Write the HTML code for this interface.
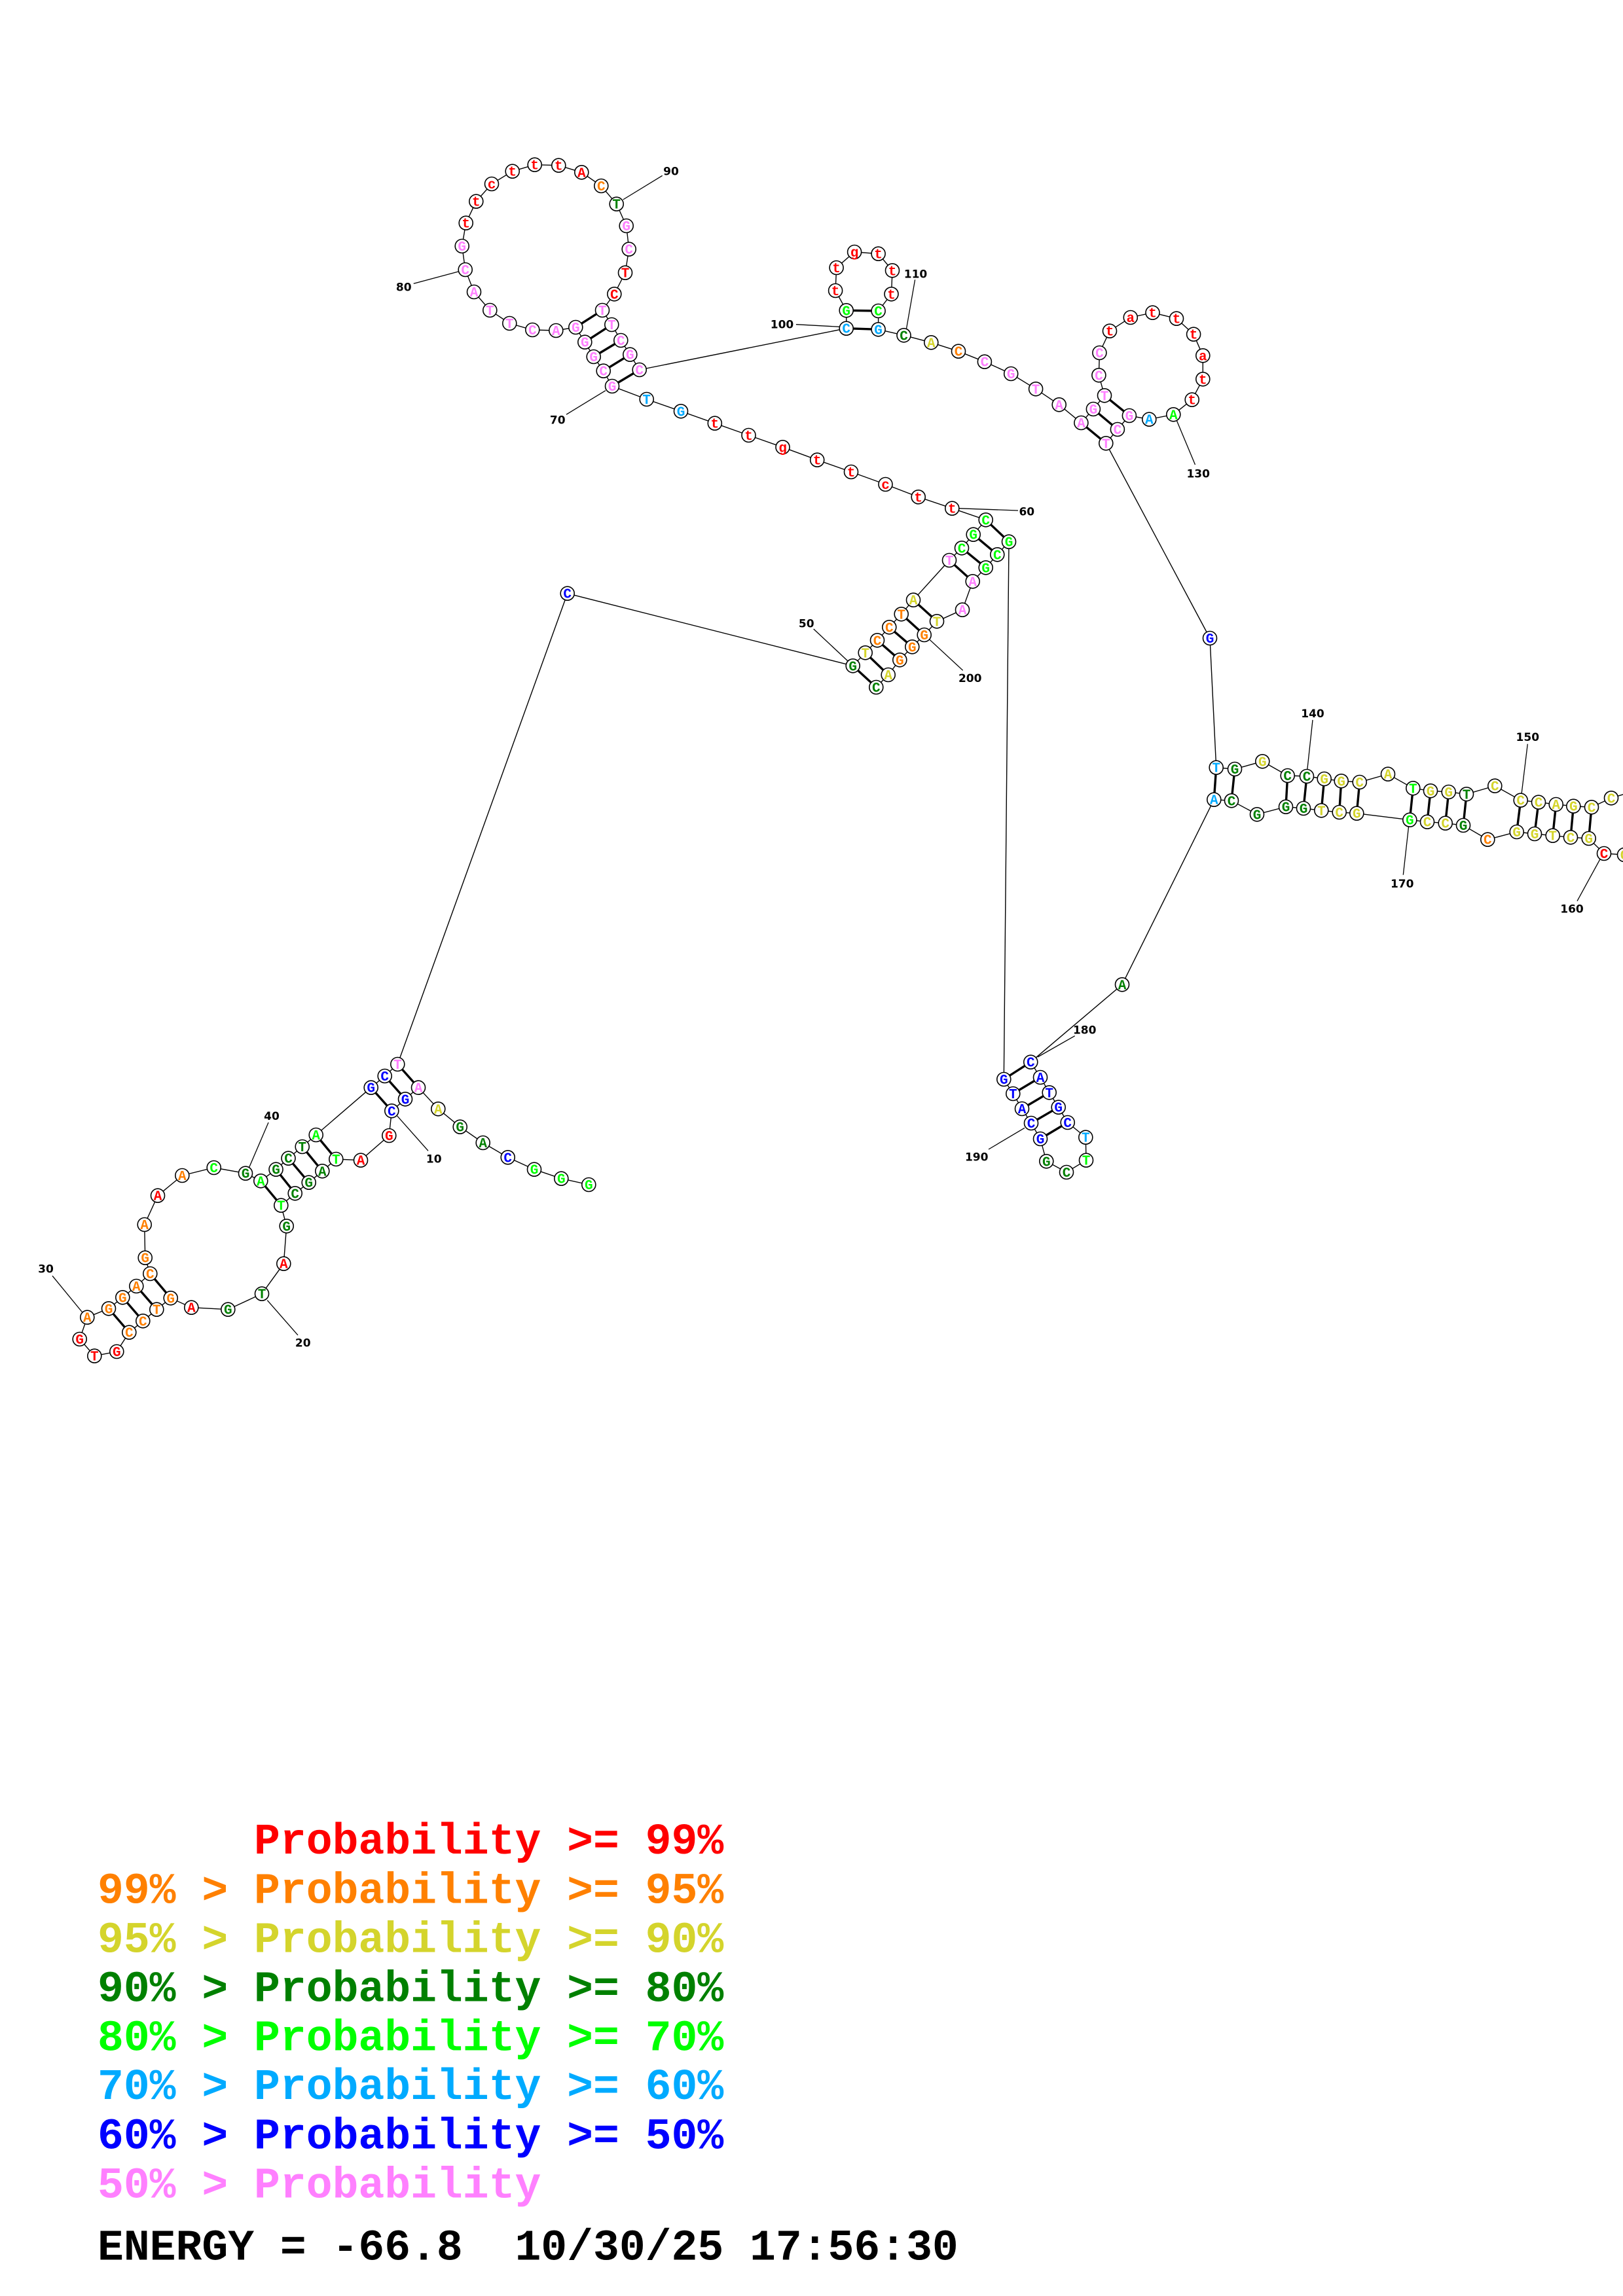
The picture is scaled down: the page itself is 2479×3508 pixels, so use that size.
<!DOCTYPE html>
<html><head><meta charset="utf-8"><style>
html,body{margin:0;padding:0;background:#fff;width:2479px;height:3508px;overflow:hidden}
svg{display:block}
.bb{fill:none;stroke:#000;stroke-width:1.4}
.pr{fill:none;stroke:#000;stroke-width:3.4}
.ll{stroke:#000;stroke-width:1.3}
circle{fill:#fff;stroke:#000;stroke-width:1.6}
.nt text{font-family:"Liberation Mono",monospace;font-weight:bold;font-size:21px;text-anchor:middle}
.lb text{font-family:"DejaVu Sans","Liberation Sans",sans-serif;font-weight:bold;font-size:17px;text-anchor:middle;fill:#000}
.lg text{font-family:"Liberation Mono",monospace;font-weight:bold;font-size:66.4px;white-space:pre}
.r{fill:#ff0000}.o{fill:#ff8000}.y{fill:#d4d42c}.d{fill:#008000}.g{fill:#00ff00}.l{fill:#00aaff}.b{fill:#0000ff}.p{fill:#ff80ff}.k{fill:#000}
</style></head><body>
<svg width="2479" height="3508" viewBox="0 0 2479 3508" xmlns="http://www.w3.org/2000/svg">
<polyline class="bb" points="899.3,1810 857.3,1800.7 816,1786.7 775.7,1768.3 737.7,1746 702.7,1721.7 669.3,1694.3 639,1661.7 619,1679.3 598.3,1697.3 594.3,1735 551,1772.7 513.3,1771 492.3,1789.3 471.7,1806.7 450.7,1823.3 429.3,1841.7 437.7,1873.3 433.3,1930.7 400,1976.7 348.3,2000.7 292.3,1997.7 260.7,1983.3 239.3,2000.7 218.3,2018.3 197.3,2035.7 178.3,2065 144.3,2071.7 121.7,2046 133.3,2012.7 166,1999.3 187.3,1982.3 208.3,1965 229.3,1946 221.7,1921.7 220.7,1871 241,1826.7 278.3,1796 326.7,1784 375,1792.7 398.3,1804.3 421.5,1786.7 440.5,1769.7 461.7,1752 482.7,1734 566.7,1661.7 587.7,1644 607.3,1626 866.7,906.7 1302.7,1017.3 1321.7,997.3 1340,978.3 1358.3,958.3 1376.7,938.3 1395,916.7 1450,856 1469,837.3 1486.7,816.7 1505.7,794.3 1454.3,776.7 1402.7,759.3 1352.5,740 1300,721 1248.2,702.7 1195.5,683.3 1143.5,665 1091.8,646.7 1040,628.3 987.7,610 935,590 921.7,566.7 906.7,545 893.3,522.7 879.3,500 849.3,505 813.3,504 778.3,494 748.3,474 724,446 710.7,412 705.7,376 711.7,340.7 727.3,307.7 751,281 782.7,261.7 816.7,251.7 853.3,252.7 888.3,263.3 918.3,284 941.7,311.7 956.7,345 960.7,380.7 955,416.7 938.3,449.3 920,474 934.3,496 948.3,520 962.3,541.7 976.7,565 1292.7,501.7 1292.7,474.3 1276.1,444 1277.6,409 1305.1,385 1341.6,387.7 1363,413.3 1361.5,449.3 1341.6,475 1341.6,503.3 1380.5,512.3 1422.3,523.3 1464,536.7 1503.9,552.7 1544.2,571 1582.1,594.3 1617.7,618.3 1651.4,646 1669.9,625 1687,604.3 1678.4,573.3 1679.4,539 1695,505.7 1726.8,485 1760.5,477.7 1797,486.7 1823.1,510.7 1837.3,543.3 1837.3,579.3 1820.7,610.7 1792.3,633.3 1755.3,640.7 1724.9,635 1706.9,656 1689.3,677.3 1848,975 1857.7,1172.7 1886,1175 1928.3,1163.3 1966.7,1185 1996,1186 2022.7,1190 2048.7,1193.3 2076.7,1195 2120,1182.7 2158.3,1204.3 2185,1208.3 2212.7,1210 2240,1213.3 2283.3,1200.7 2322.7,1222.7 2350,1225.7 2376.7,1229 2403.3,1231.7 2431,1233.3 2461,1219.3 2492,1210 2520,1232 2515,1272 2481,1306 2450,1304 2426.7,1281 2399,1279.3 2371.7,1276.7 2344,1274 2316.7,1271 2272.3,1282.7 2235,1261 2207.7,1257.7 2180,1255.7 2153.3,1252.7 2072.3,1242.7 2045.7,1241 2018.3,1238.3 1991,1235 1964,1232.7 1920,1244.3 1881,1223.3 1854.3,1221.7 1714,1504.3 1574.3,1622.7 1589,1646 1602.7,1669.3 1616.7,1691.7 1630.7,1715 1658.3,1737.7 1659,1772.7 1629,1791 1598.3,1774.3 1589,1740 1575,1716 1561,1694 1547.3,1671 1533.3,1649 1541,827.7 1523.3,847.3 1505.7,867.3 1485.7,888.3 1470,931.7 1431,949.3 1411.7,970 1393.3,988.3 1374.3,1008.3 1356.7,1031 1338.3,1050"/>
<path class="pr" d="M639,1661.7L607.3,1626M619,1679.3L587.7,1644M598.3,1697.3L566.7,1661.7M513.3,1771L482.7,1734M492.3,1789.3L461.7,1752M471.7,1806.7L440.5,1769.7M450.7,1823.3L421.5,1786.7M429.3,1841.7L398.3,1804.3M260.7,1983.3L229.3,1946M239.3,2000.7L208.3,1965M218.3,2018.3L187.3,1982.3M197.3,2035.7L166,1999.3M1302.7,1017.3L1338.3,1050M1321.7,997.3L1356.7,1031M1340,978.3L1374.3,1008.3M1358.3,958.3L1393.3,988.3M1376.7,938.3L1411.7,970M1395,916.7L1431,949.3M1450,856L1485.7,888.3M1469,837.3L1505.7,867.3M1486.7,816.7L1523.3,847.3M1505.7,794.3L1541,827.7M935,590L976.7,565M921.7,566.7L962.3,541.7M906.7,545L948.3,520M893.3,522.7L934.3,496M879.3,500L920,474M1292.7,501.7L1341.6,503.3M1292.7,474.3L1341.6,475M1651.4,646L1689.3,677.3M1669.9,625L1706.9,656M1687,604.3L1724.9,635M1857.7,1172.7L1854.3,1221.7M1886,1175L1881,1223.3M1966.7,1185L1964,1232.7M1996,1186L1991,1235M2022.7,1190L2018.3,1238.3M2048.7,1193.3L2045.7,1241M2076.7,1195L2072.3,1242.7M2158.3,1204.3L2153.3,1252.7M2185,1208.3L2180,1255.7M2212.7,1210L2207.7,1257.7M2240,1213.3L2235,1261M2322.7,1222.7L2316.7,1271M2350,1225.7L2344,1274M2376.7,1229L2371.7,1276.7M2403.3,1231.7L2399,1279.3M2431,1233.3L2426.7,1281M1574.3,1622.7L1533.3,1649M1589,1646L1547.3,1671M1602.7,1669.3L1561,1694M1616.7,1691.7L1575,1716M1630.7,1715L1589,1740"/>
<g class="ll">
<line x1="606.7" y1="1705" x2="654" y2="1758.3"/>
<line x1="408.3" y1="1986.7" x2="455" y2="2040"/>
<line x1="80" y1="1949.3" x2="125.7" y2="2005"/>
<line x1="410" y1="1715" x2="380.7" y2="1783.3"/>
<line x1="1242.7" y1="961" x2="1295" y2="1010"/>
<line x1="1463.3" y1="776.7" x2="1555" y2="780"/>
<line x1="865" y1="633.3" x2="925" y2="596.7"/>
<line x1="631.7" y1="433.3" x2="700" y2="415"/>
<line x1="951.7" y1="305" x2="1011.7" y2="268.3"/>
<line x1="1215.9" y1="495.7" x2="1282.3" y2="499.3"/>
<line x1="1384.3" y1="503.3" x2="1397.6" y2="427.3"/>
<line x1="1797" y1="641.7" x2="1825.5" y2="710"/>
<line x1="2005" y1="1100" x2="1996.7" y2="1176.7"/>
<line x1="2333.3" y1="1136.7" x2="2324" y2="1213.3"/>
<line x1="2444" y1="1312.7" x2="2409" y2="1376.7"/>
<line x1="2151.7" y1="1261.7" x2="2143.3" y2="1336.7"/>
<line x1="1585" y1="1615" x2="1641.7" y2="1582.7"/>
<line x1="1510" y1="1756" x2="1565" y2="1723.3"/>
<line x1="1419.3" y1="976.7" x2="1470.7" y2="1024.3"/>
</g>
<g>
<circle cx="899.3" cy="1810" r="10.5"/><circle cx="857.3" cy="1800.7" r="10.5"/><circle cx="816" cy="1786.7" r="10.5"/><circle cx="775.7" cy="1768.3" r="10.5"/><circle cx="737.7" cy="1746" r="10.5"/><circle cx="702.7" cy="1721.7" r="10.5"/><circle cx="669.3" cy="1694.3" r="10.5"/><circle cx="639" cy="1661.7" r="10.5"/><circle cx="619" cy="1679.3" r="10.5"/><circle cx="598.3" cy="1697.3" r="10.5"/>
<circle cx="594.3" cy="1735" r="10.5"/><circle cx="551" cy="1772.7" r="10.5"/><circle cx="513.3" cy="1771" r="10.5"/><circle cx="492.3" cy="1789.3" r="10.5"/><circle cx="471.7" cy="1806.7" r="10.5"/><circle cx="450.7" cy="1823.3" r="10.5"/><circle cx="429.3" cy="1841.7" r="10.5"/><circle cx="437.7" cy="1873.3" r="10.5"/><circle cx="433.3" cy="1930.7" r="10.5"/><circle cx="400" cy="1976.7" r="10.5"/>
<circle cx="348.3" cy="2000.7" r="10.5"/><circle cx="292.3" cy="1997.7" r="10.5"/><circle cx="260.7" cy="1983.3" r="10.5"/><circle cx="239.3" cy="2000.7" r="10.5"/><circle cx="218.3" cy="2018.3" r="10.5"/><circle cx="197.3" cy="2035.7" r="10.5"/><circle cx="178.3" cy="2065" r="10.5"/><circle cx="144.3" cy="2071.7" r="10.5"/><circle cx="121.7" cy="2046" r="10.5"/><circle cx="133.3" cy="2012.7" r="10.5"/>
<circle cx="166" cy="1999.3" r="10.5"/><circle cx="187.3" cy="1982.3" r="10.5"/><circle cx="208.3" cy="1965" r="10.5"/><circle cx="229.3" cy="1946" r="10.5"/><circle cx="221.7" cy="1921.7" r="10.5"/><circle cx="220.7" cy="1871" r="10.5"/><circle cx="241" cy="1826.7" r="10.5"/><circle cx="278.3" cy="1796" r="10.5"/><circle cx="326.7" cy="1784" r="10.5"/><circle cx="375" cy="1792.7" r="10.5"/>
<circle cx="398.3" cy="1804.3" r="10.5"/><circle cx="421.5" cy="1786.7" r="10.5"/><circle cx="440.5" cy="1769.7" r="10.5"/><circle cx="461.7" cy="1752" r="10.5"/><circle cx="482.7" cy="1734" r="10.5"/><circle cx="566.7" cy="1661.7" r="10.5"/><circle cx="587.7" cy="1644" r="10.5"/><circle cx="607.3" cy="1626" r="10.5"/><circle cx="866.7" cy="906.7" r="10.5"/><circle cx="1302.7" cy="1017.3" r="10.5"/>
<circle cx="1321.7" cy="997.3" r="10.5"/><circle cx="1340" cy="978.3" r="10.5"/><circle cx="1358.3" cy="958.3" r="10.5"/><circle cx="1376.7" cy="938.3" r="10.5"/><circle cx="1395" cy="916.7" r="10.5"/><circle cx="1450" cy="856" r="10.5"/><circle cx="1469" cy="837.3" r="10.5"/><circle cx="1486.7" cy="816.7" r="10.5"/><circle cx="1505.7" cy="794.3" r="10.5"/><circle cx="1454.3" cy="776.7" r="10.5"/>
<circle cx="1402.7" cy="759.3" r="10.5"/><circle cx="1352.5" cy="740" r="10.5"/><circle cx="1300" cy="721" r="10.5"/><circle cx="1248.2" cy="702.7" r="10.5"/><circle cx="1195.5" cy="683.3" r="10.5"/><circle cx="1143.5" cy="665" r="10.5"/><circle cx="1091.8" cy="646.7" r="10.5"/><circle cx="1040" cy="628.3" r="10.5"/><circle cx="987.7" cy="610" r="10.5"/><circle cx="935" cy="590" r="10.5"/>
<circle cx="921.7" cy="566.7" r="10.5"/><circle cx="906.7" cy="545" r="10.5"/><circle cx="893.3" cy="522.7" r="10.5"/><circle cx="879.3" cy="500" r="10.5"/><circle cx="849.3" cy="505" r="10.5"/><circle cx="813.3" cy="504" r="10.5"/><circle cx="778.3" cy="494" r="10.5"/><circle cx="748.3" cy="474" r="10.5"/><circle cx="724" cy="446" r="10.5"/><circle cx="710.7" cy="412" r="10.5"/>
<circle cx="705.7" cy="376" r="10.5"/><circle cx="711.7" cy="340.7" r="10.5"/><circle cx="727.3" cy="307.7" r="10.5"/><circle cx="751" cy="281" r="10.5"/><circle cx="782.7" cy="261.7" r="10.5"/><circle cx="816.7" cy="251.7" r="10.5"/><circle cx="853.3" cy="252.7" r="10.5"/><circle cx="888.3" cy="263.3" r="10.5"/><circle cx="918.3" cy="284" r="10.5"/><circle cx="941.7" cy="311.7" r="10.5"/>
<circle cx="956.7" cy="345" r="10.5"/><circle cx="960.7" cy="380.7" r="10.5"/><circle cx="955" cy="416.7" r="10.5"/><circle cx="938.3" cy="449.3" r="10.5"/><circle cx="920" cy="474" r="10.5"/><circle cx="934.3" cy="496" r="10.5"/><circle cx="948.3" cy="520" r="10.5"/><circle cx="962.3" cy="541.7" r="10.5"/><circle cx="976.7" cy="565" r="10.5"/><circle cx="1292.7" cy="501.7" r="10.5"/>
<circle cx="1292.7" cy="474.3" r="10.5"/><circle cx="1276.1" cy="444" r="10.5"/><circle cx="1277.6" cy="409" r="10.5"/><circle cx="1305.1" cy="385" r="10.5"/><circle cx="1341.6" cy="387.7" r="10.5"/><circle cx="1363" cy="413.3" r="10.5"/><circle cx="1361.5" cy="449.3" r="10.5"/><circle cx="1341.6" cy="475" r="10.5"/><circle cx="1341.6" cy="503.3" r="10.5"/><circle cx="1380.5" cy="512.3" r="10.5"/>
<circle cx="1422.3" cy="523.3" r="10.5"/><circle cx="1464" cy="536.7" r="10.5"/><circle cx="1503.9" cy="552.7" r="10.5"/><circle cx="1544.2" cy="571" r="10.5"/><circle cx="1582.1" cy="594.3" r="10.5"/><circle cx="1617.7" cy="618.3" r="10.5"/><circle cx="1651.4" cy="646" r="10.5"/><circle cx="1669.9" cy="625" r="10.5"/><circle cx="1687" cy="604.3" r="10.5"/><circle cx="1678.4" cy="573.3" r="10.5"/>
<circle cx="1679.4" cy="539" r="10.5"/><circle cx="1695" cy="505.7" r="10.5"/><circle cx="1726.8" cy="485" r="10.5"/><circle cx="1760.5" cy="477.7" r="10.5"/><circle cx="1797" cy="486.7" r="10.5"/><circle cx="1823.1" cy="510.7" r="10.5"/><circle cx="1837.3" cy="543.3" r="10.5"/><circle cx="1837.3" cy="579.3" r="10.5"/><circle cx="1820.7" cy="610.7" r="10.5"/><circle cx="1792.3" cy="633.3" r="10.5"/>
<circle cx="1755.3" cy="640.7" r="10.5"/><circle cx="1724.9" cy="635" r="10.5"/><circle cx="1706.9" cy="656" r="10.5"/><circle cx="1689.3" cy="677.3" r="10.5"/><circle cx="1848" cy="975" r="10.5"/><circle cx="1857.7" cy="1172.7" r="10.5"/><circle cx="1886" cy="1175" r="10.5"/><circle cx="1928.3" cy="1163.3" r="10.5"/><circle cx="1966.7" cy="1185" r="10.5"/><circle cx="1996" cy="1186" r="10.5"/>
<circle cx="2022.7" cy="1190" r="10.5"/><circle cx="2048.7" cy="1193.3" r="10.5"/><circle cx="2076.7" cy="1195" r="10.5"/><circle cx="2120" cy="1182.7" r="10.5"/><circle cx="2158.3" cy="1204.3" r="10.5"/><circle cx="2185" cy="1208.3" r="10.5"/><circle cx="2212.7" cy="1210" r="10.5"/><circle cx="2240" cy="1213.3" r="10.5"/><circle cx="2283.3" cy="1200.7" r="10.5"/><circle cx="2322.7" cy="1222.7" r="10.5"/>
<circle cx="2350" cy="1225.7" r="10.5"/><circle cx="2376.7" cy="1229" r="10.5"/><circle cx="2403.3" cy="1231.7" r="10.5"/><circle cx="2431" cy="1233.3" r="10.5"/><circle cx="2461" cy="1219.3" r="10.5"/><circle cx="2492" cy="1210" r="10.5"/><circle cx="2520" cy="1232" r="10.5"/><circle cx="2515" cy="1272" r="10.5"/><circle cx="2481" cy="1306" r="10.5"/><circle cx="2450" cy="1304" r="10.5"/>
<circle cx="2426.7" cy="1281" r="10.5"/><circle cx="2399" cy="1279.3" r="10.5"/><circle cx="2371.7" cy="1276.7" r="10.5"/><circle cx="2344" cy="1274" r="10.5"/><circle cx="2316.7" cy="1271" r="10.5"/><circle cx="2272.3" cy="1282.7" r="10.5"/><circle cx="2235" cy="1261" r="10.5"/><circle cx="2207.7" cy="1257.7" r="10.5"/><circle cx="2180" cy="1255.7" r="10.5"/><circle cx="2153.3" cy="1252.7" r="10.5"/>
<circle cx="2072.3" cy="1242.7" r="10.5"/><circle cx="2045.7" cy="1241" r="10.5"/><circle cx="2018.3" cy="1238.3" r="10.5"/><circle cx="1991" cy="1235" r="10.5"/><circle cx="1964" cy="1232.7" r="10.5"/><circle cx="1920" cy="1244.3" r="10.5"/><circle cx="1881" cy="1223.3" r="10.5"/><circle cx="1854.3" cy="1221.7" r="10.5"/><circle cx="1714" cy="1504.3" r="10.5"/><circle cx="1574.3" cy="1622.7" r="10.5"/>
<circle cx="1589" cy="1646" r="10.5"/><circle cx="1602.7" cy="1669.3" r="10.5"/><circle cx="1616.7" cy="1691.7" r="10.5"/><circle cx="1630.7" cy="1715" r="10.5"/><circle cx="1658.3" cy="1737.7" r="10.5"/><circle cx="1659" cy="1772.7" r="10.5"/><circle cx="1629" cy="1791" r="10.5"/><circle cx="1598.3" cy="1774.3" r="10.5"/><circle cx="1589" cy="1740" r="10.5"/><circle cx="1575" cy="1716" r="10.5"/>
<circle cx="1561" cy="1694" r="10.5"/><circle cx="1547.3" cy="1671" r="10.5"/><circle cx="1533.3" cy="1649" r="10.5"/><circle cx="1541" cy="827.7" r="10.5"/><circle cx="1523.3" cy="847.3" r="10.5"/><circle cx="1505.7" cy="867.3" r="10.5"/><circle cx="1485.7" cy="888.3" r="10.5"/><circle cx="1470" cy="931.7" r="10.5"/><circle cx="1431" cy="949.3" r="10.5"/><circle cx="1411.7" cy="970" r="10.5"/>
<circle cx="1393.3" cy="988.3" r="10.5"/><circle cx="1374.3" cy="1008.3" r="10.5"/><circle cx="1356.7" cy="1031" r="10.5"/><circle cx="1338.3" cy="1050" r="10.5"/>
</g>
<g class="nt">
<text x="899.3" y="1817" class="g">G</text><text x="857.3" y="1807.7" class="g">G</text><text x="816" y="1793.7" class="g">G</text><text x="775.7" y="1775.3" class="b">C</text><text x="737.7" y="1753" class="d">A</text><text x="702.7" y="1728.7" class="d">G</text><text x="669.3" y="1701.3" class="y">A</text><text x="639" y="1668.7" class="p">A</text><text x="619" y="1686.3" class="b">G</text><text x="598.3" y="1704.3" class="b">C</text>
<text x="594.3" y="1742" class="r">G</text><text x="551" y="1779.7" class="r">A</text><text x="513.3" y="1778" class="g">T</text><text x="492.3" y="1796.3" class="d">A</text><text x="471.7" y="1813.7" class="d">G</text><text x="450.7" y="1830.3" class="d">C</text><text x="429.3" y="1848.7" class="g">T</text><text x="437.7" y="1880.3" class="d">G</text><text x="433.3" y="1937.7" class="r">A</text><text x="400" y="1983.7" class="d">T</text>
<text x="348.3" y="2007.7" class="d">G</text><text x="292.3" y="2004.7" class="r">A</text><text x="260.7" y="1990.3" class="o">G</text><text x="239.3" y="2007.7" class="o">T</text><text x="218.3" y="2025.3" class="o">C</text><text x="197.3" y="2042.7" class="o">C</text><text x="178.3" y="2072" class="r">G</text><text x="144.3" y="2078.7" class="r">T</text><text x="121.7" y="2053" class="r">G</text><text x="133.3" y="2019.7" class="o">A</text>
<text x="166" y="2006.3" class="o">G</text><text x="187.3" y="1989.3" class="o">G</text><text x="208.3" y="1972" class="o">A</text><text x="229.3" y="1953" class="o">C</text><text x="221.7" y="1928.7" class="o">G</text><text x="220.7" y="1878" class="o">A</text><text x="241" y="1833.7" class="r">A</text><text x="278.3" y="1803" class="o">A</text><text x="326.7" y="1791" class="g">C</text><text x="375" y="1799.7" class="d">G</text>
<text x="398.3" y="1811.3" class="g">A</text><text x="421.5" y="1793.7" class="d">G</text><text x="440.5" y="1776.7" class="d">C</text><text x="461.7" y="1759" class="d">T</text><text x="482.7" y="1741" class="g">A</text><text x="566.7" y="1668.7" class="b">G</text><text x="587.7" y="1651" class="b">C</text><text x="607.3" y="1633" class="p">T</text><text x="866.7" y="913.7" class="b">C</text><text x="1302.7" y="1024.3" class="d">G</text>
<text x="1321.7" y="1004.3" class="y">T</text><text x="1340" y="985.3" class="o">C</text><text x="1358.3" y="965.3" class="o">C</text><text x="1376.7" y="945.3" class="o">T</text><text x="1395" y="923.7" class="y">A</text><text x="1450" y="863" class="p">T</text><text x="1469" y="844.3" class="g">C</text><text x="1486.7" y="823.7" class="g">G</text><text x="1505.7" y="801.3" class="g">C</text><text x="1454.3" y="783.7" class="r">t</text>
<text x="1402.7" y="766.3" class="r">t</text><text x="1352.5" y="747" class="r">c</text><text x="1300" y="728" class="r">t</text><text x="1248.2" y="709.7" class="r">t</text><text x="1195.5" y="690.3" class="r">g</text><text x="1143.5" y="672" class="r">t</text><text x="1091.8" y="653.7" class="r">t</text><text x="1040" y="635.3" class="l">G</text><text x="987.7" y="617" class="l">T</text><text x="935" y="597" class="p">G</text>
<text x="921.7" y="573.7" class="p">C</text><text x="906.7" y="552" class="p">G</text><text x="893.3" y="529.7" class="p">G</text><text x="879.3" y="507" class="p">G</text><text x="849.3" y="512" class="p">A</text><text x="813.3" y="511" class="p">C</text><text x="778.3" y="501" class="p">T</text><text x="748.3" y="481" class="p">T</text><text x="724" y="453" class="p">A</text><text x="710.7" y="419" class="p">C</text>
<text x="705.7" y="383" class="p">G</text><text x="711.7" y="347.7" class="r">t</text><text x="727.3" y="314.7" class="r">t</text><text x="751" y="288" class="r">c</text><text x="782.7" y="268.7" class="r">t</text><text x="816.7" y="258.7" class="r">t</text><text x="853.3" y="259.7" class="r">t</text><text x="888.3" y="270.3" class="r">A</text><text x="918.3" y="291" class="o">C</text><text x="941.7" y="318.7" class="d">T</text>
<text x="956.7" y="352" class="p">G</text><text x="960.7" y="387.7" class="p">C</text><text x="955" y="423.7" class="r">T</text><text x="938.3" y="456.3" class="r">C</text><text x="920" y="481" class="p">T</text><text x="934.3" y="503" class="p">T</text><text x="948.3" y="527" class="p">C</text><text x="962.3" y="548.7" class="p">G</text><text x="976.7" y="572" class="p">C</text><text x="1292.7" y="508.7" class="l">C</text>
<text x="1292.7" y="481.3" class="g">G</text><text x="1276.1" y="451" class="r">t</text><text x="1277.6" y="416" class="r">t</text><text x="1305.1" y="392" class="r">g</text><text x="1341.6" y="394.7" class="r">t</text><text x="1363" y="420.3" class="r">t</text><text x="1361.5" y="456.3" class="r">t</text><text x="1341.6" y="482" class="g">C</text><text x="1341.6" y="510.3" class="l">G</text><text x="1380.5" y="519.3" class="d">C</text>
<text x="1422.3" y="530.3" class="y">A</text><text x="1464" y="543.7" class="o">C</text><text x="1503.9" y="559.7" class="p">C</text><text x="1544.2" y="578" class="p">G</text><text x="1582.1" y="601.3" class="p">T</text><text x="1617.7" y="625.3" class="p">A</text><text x="1651.4" y="653" class="p">A</text><text x="1669.9" y="632" class="p">G</text><text x="1687" y="611.3" class="p">T</text><text x="1678.4" y="580.3" class="p">C</text>
<text x="1679.4" y="546" class="p">C</text><text x="1695" y="512.7" class="r">t</text><text x="1726.8" y="492" class="r">a</text><text x="1760.5" y="484.7" class="r">t</text><text x="1797" y="493.7" class="r">t</text><text x="1823.1" y="517.7" class="r">t</text><text x="1837.3" y="550.3" class="r">a</text><text x="1837.3" y="586.3" class="r">t</text><text x="1820.7" y="617.7" class="r">t</text><text x="1792.3" y="640.3" class="g">A</text>
<text x="1755.3" y="647.7" class="l">A</text><text x="1724.9" y="642" class="p">G</text><text x="1706.9" y="663" class="p">C</text><text x="1689.3" y="684.3" class="p">T</text><text x="1848" y="982" class="b">G</text><text x="1857.7" y="1179.7" class="l">T</text><text x="1886" y="1182" class="d">G</text><text x="1928.3" y="1170.3" class="y">G</text><text x="1966.7" y="1192" class="d">C</text><text x="1996" y="1193" class="d">C</text>
<text x="2022.7" y="1197" class="y">G</text><text x="2048.7" y="1200.3" class="y">G</text><text x="2076.7" y="1202" class="y">C</text><text x="2120" y="1189.7" class="y">A</text><text x="2158.3" y="1211.3" class="g">T</text><text x="2185" y="1215.3" class="y">G</text><text x="2212.7" y="1217" class="y">G</text><text x="2240" y="1220.3" class="d">T</text><text x="2283.3" y="1207.7" class="y">C</text><text x="2322.7" y="1229.7" class="y">C</text>
<text x="2350" y="1232.7" class="y">C</text><text x="2376.7" y="1236" class="y">A</text><text x="2403.3" y="1238.7" class="y">G</text><text x="2431" y="1240.3" class="y">C</text><text x="2461" y="1226.3" class="y">C</text><text x="2492" y="1217" class="y">C</text><text x="2520" y="1239" class="y">C</text><text x="2515" y="1279" class="y">C</text><text x="2481" y="1313" class="y">C</text><text x="2450" y="1311" class="r">C</text>
<text x="2426.7" y="1288" class="y">G</text><text x="2399" y="1286.3" class="y">C</text><text x="2371.7" y="1283.7" class="y">T</text><text x="2344" y="1281" class="y">G</text><text x="2316.7" y="1278" class="y">G</text><text x="2272.3" y="1289.7" class="o">C</text><text x="2235" y="1268" class="d">G</text><text x="2207.7" y="1264.7" class="y">C</text><text x="2180" y="1262.7" class="y">C</text><text x="2153.3" y="1259.7" class="g">G</text>
<text x="2072.3" y="1249.7" class="y">G</text><text x="2045.7" y="1248" class="y">C</text><text x="2018.3" y="1245.3" class="y">T</text><text x="1991" y="1242" class="d">G</text><text x="1964" y="1239.7" class="d">G</text><text x="1920" y="1251.3" class="d">G</text><text x="1881" y="1230.3" class="d">C</text><text x="1854.3" y="1228.7" class="l">A</text><text x="1714" y="1511.3" class="d">A</text><text x="1574.3" y="1629.7" class="b">C</text>
<text x="1589" y="1653" class="b">A</text><text x="1602.7" y="1676.3" class="b">T</text><text x="1616.7" y="1698.7" class="b">G</text><text x="1630.7" y="1722" class="b">C</text><text x="1658.3" y="1744.7" class="l">T</text><text x="1659" y="1779.7" class="g">T</text><text x="1629" y="1798" class="d">C</text><text x="1598.3" y="1781.3" class="d">G</text><text x="1589" y="1747" class="b">G</text><text x="1575" y="1723" class="b">C</text>
<text x="1561" y="1701" class="b">A</text><text x="1547.3" y="1678" class="b">T</text><text x="1533.3" y="1656" class="b">G</text><text x="1541" y="834.7" class="g">G</text><text x="1523.3" y="854.3" class="g">C</text><text x="1505.7" y="874.3" class="g">G</text><text x="1485.7" y="895.3" class="p">A</text><text x="1470" y="938.7" class="p">A</text><text x="1431" y="956.3" class="y">T</text><text x="1411.7" y="977" class="o">G</text>
<text x="1393.3" y="995.3" class="o">G</text><text x="1374.3" y="1015.3" class="o">G</text><text x="1356.7" y="1038" class="y">A</text><text x="1338.3" y="1057" class="d">C</text>
</g>
<g class="lb">
<text x="662.7" y="1776.7">10</text>
<text x="462.7" y="2057.7">20</text>
<text x="70" y="1944.3">30</text>
<text x="415" y="1711">40</text>
<text x="1231.7" y="958.3">50</text>
<text x="1568.3" y="787.7">60</text>
<text x="851.7" y="647.7">70</text>
<text x="616.7" y="444.3">80</text>
<text x="1025" y="267.7">90</text>
<text x="1194.5" y="501.7">100</text>
<text x="1398.5" y="424.3">110</text>
<text x="1830.2" y="729.3">130</text>
<text x="2005" y="1096">140</text>
<text x="2333.3" y="1132">150</text>
<text x="2401" y="1394.3">160</text>
<text x="2141.7" y="1356">170</text>
<text x="1656.7" y="1579.3">180</text>
<text x="1491.7" y="1773.3">190</text>
<text x="1481.7" y="1042">200</text>
</g>
<g class="lg">
<text x="149" y="2832" class="r" xml:space="preserve">      Probability &gt;= 99%</text>
<text x="149" y="2907.5" class="o" xml:space="preserve">99% &gt; Probability &gt;= 95%</text>
<text x="149" y="2982.5" class="y" xml:space="preserve">95% &gt; Probability &gt;= 90%</text>
<text x="149" y="3057.5" class="d" xml:space="preserve">90% &gt; Probability &gt;= 80%</text>
<text x="149" y="3132.5" class="g" xml:space="preserve">80% &gt; Probability &gt;= 70%</text>
<text x="149" y="3207" class="l" xml:space="preserve">70% &gt; Probability &gt;= 60%</text>
<text x="149" y="3282.5" class="b" xml:space="preserve">60% &gt; Probability &gt;= 50%</text>
<text x="149" y="3357.5" class="p" xml:space="preserve">50% &gt; Probability</text>
<text x="149" y="3452.5" class="k" xml:space="preserve">ENERGY = -66.8  10/30/25 17:56:30</text>
</g>
</svg>
</body></html>
